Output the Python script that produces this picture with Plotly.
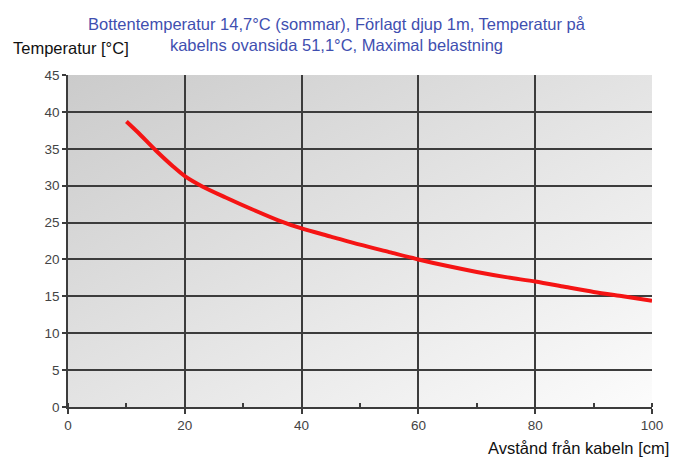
import base64
import plotly.graph_objects as go

# Data
distance_cm = [10, 12, 15, 18, 20, 23, 27, 31.5, 36, 40, 45, 50, 55, 60, 65, 70, 75, 80, 85, 90, 95, 100]
temperature_c = [38.7, 37.2, 34.8, 32.6, 31.3, 29.9, 28.4, 26.8, 25.3, 24.2, 23.1, 22.0, 21.0, 20.0,
                 19.1, 18.3, 17.6, 17.0, 16.3, 15.6, 15.0, 14.4]

x_ticks = [0, 20, 40, 60, 80, 100]
y_ticks = [0, 5, 10, 15, 20, 25, 30, 35, 40, 45]

title_text = ("Bottentemperatur 14,7°C (sommar), Förlagt djup 1m, Temperatur på<br>"
              "kabelns ovansida 51,1°C, Maximal belastning")
y_title = "Temperatur [°C]"
x_title = "Avstånd från kabeln [cm]"

FONT = "Arial, 'Liberation Sans', sans-serif"

svg = ("<svg xmlns='http://www.w3.org/2000/svg' width='100' height='100' "
       "preserveAspectRatio='none' viewBox='0 0 100 100'>"
       "<defs><linearGradient id='g' x1='0' y1='0' x2='1' y2='1'>"
       "<stop offset='0' stop-color='#cbcbcb'/>"
       "<stop offset='1' stop-color='#fcfcfc'/>"
       "</linearGradient></defs>"
       "<rect width='100' height='100' fill='url(#g)'/></svg>")
svg_uri = "data:image/svg+xml;base64," + base64.b64encode(svg.encode()).decode()

fig = go.Figure()
fig.add_trace(go.Scatter(
    x=distance_cm, y=temperature_c, mode="lines",
    line=dict(color="#f51414", width=4, shape="spline", smoothing=0.8),
    hoverinfo="skip", showlegend=False,
))

fig.add_layout_image(dict(
    source=svg_uri, xref="x", yref="y", x=0, y=45, sizex=100, sizey=45,
    sizing="stretch", layer="below", xanchor="left", yanchor="top",
))

fig.update_layout(
    width=675, height=457,
    margin=dict(l=68, r=20, t=75, b=50),
    paper_bgcolor="white", plot_bgcolor="#e6e6e6",
    font=dict(family=FONT, size=13.5, color="#444"),
    showlegend=False,
)

# Title as paper annotation (two lines, centred on the page)
fig.add_annotation(text=title_text, xref="paper", yref="paper",
                   x=(338.5 - 68) / 587, y=1 + (75 - 34) / 332,
                   xanchor="center", yanchor="middle", showarrow=False, align="center",
                   font=dict(family=FONT, size=16.5, color="#3f4fb0"))

fig.update_xaxes(
    range=[0, 100], tickvals=x_ticks, ticktext=[str(v) for v in x_ticks],
    showgrid=True, gridcolor="#3c3c3c", gridwidth=1.5,
    showline=True, linecolor="#3c3c3c", linewidth=1.5,
    ticks="outside", ticklen=5, tickcolor="#3c3c3c", tickwidth=1.5,
    minor=dict(dtick=10, ticks="inside", ticklen=4, tickcolor="#3c3c3c", tickwidth=1.5, showgrid=False),
    tickfont=dict(size=13.5, color="#444"), zeroline=False, fixedrange=True,
)
fig.update_yaxes(
    range=[0, 45], tickvals=y_ticks, ticktext=[str(v) for v in y_ticks],
    showgrid=True, gridcolor="#3c3c3c", gridwidth=1.5,
    showline=True, linecolor="#3c3c3c", linewidth=1.5,
    ticks="outside", ticklen=4, tickcolor="#3c3c3c", tickwidth=1.5,
    tickfont=dict(size=13.5, color="#444"), zeroline=False, fixedrange=True,
)

fig.add_annotation(text=y_title, xref="paper", yref="paper", x=-68 / 587, y=1 + 27 / 332,
                   xanchor="left", yanchor="middle", showarrow=False,
                   xshift=11, font=dict(family=FONT, size=16.5, color="#111"))
fig.add_annotation(text=x_title, xref="paper", yref="paper", x=1 + 19 / 587, y=-41 / 332,
                   xanchor="right", yanchor="middle", showarrow=False,
                   font=dict(family=FONT, size=16.5, color="#111"))

fig.write_html("out.html", config={"displayModeBar": False},
               post_script="document.body.style.margin='0';document.body.style.overflow='hidden';")
